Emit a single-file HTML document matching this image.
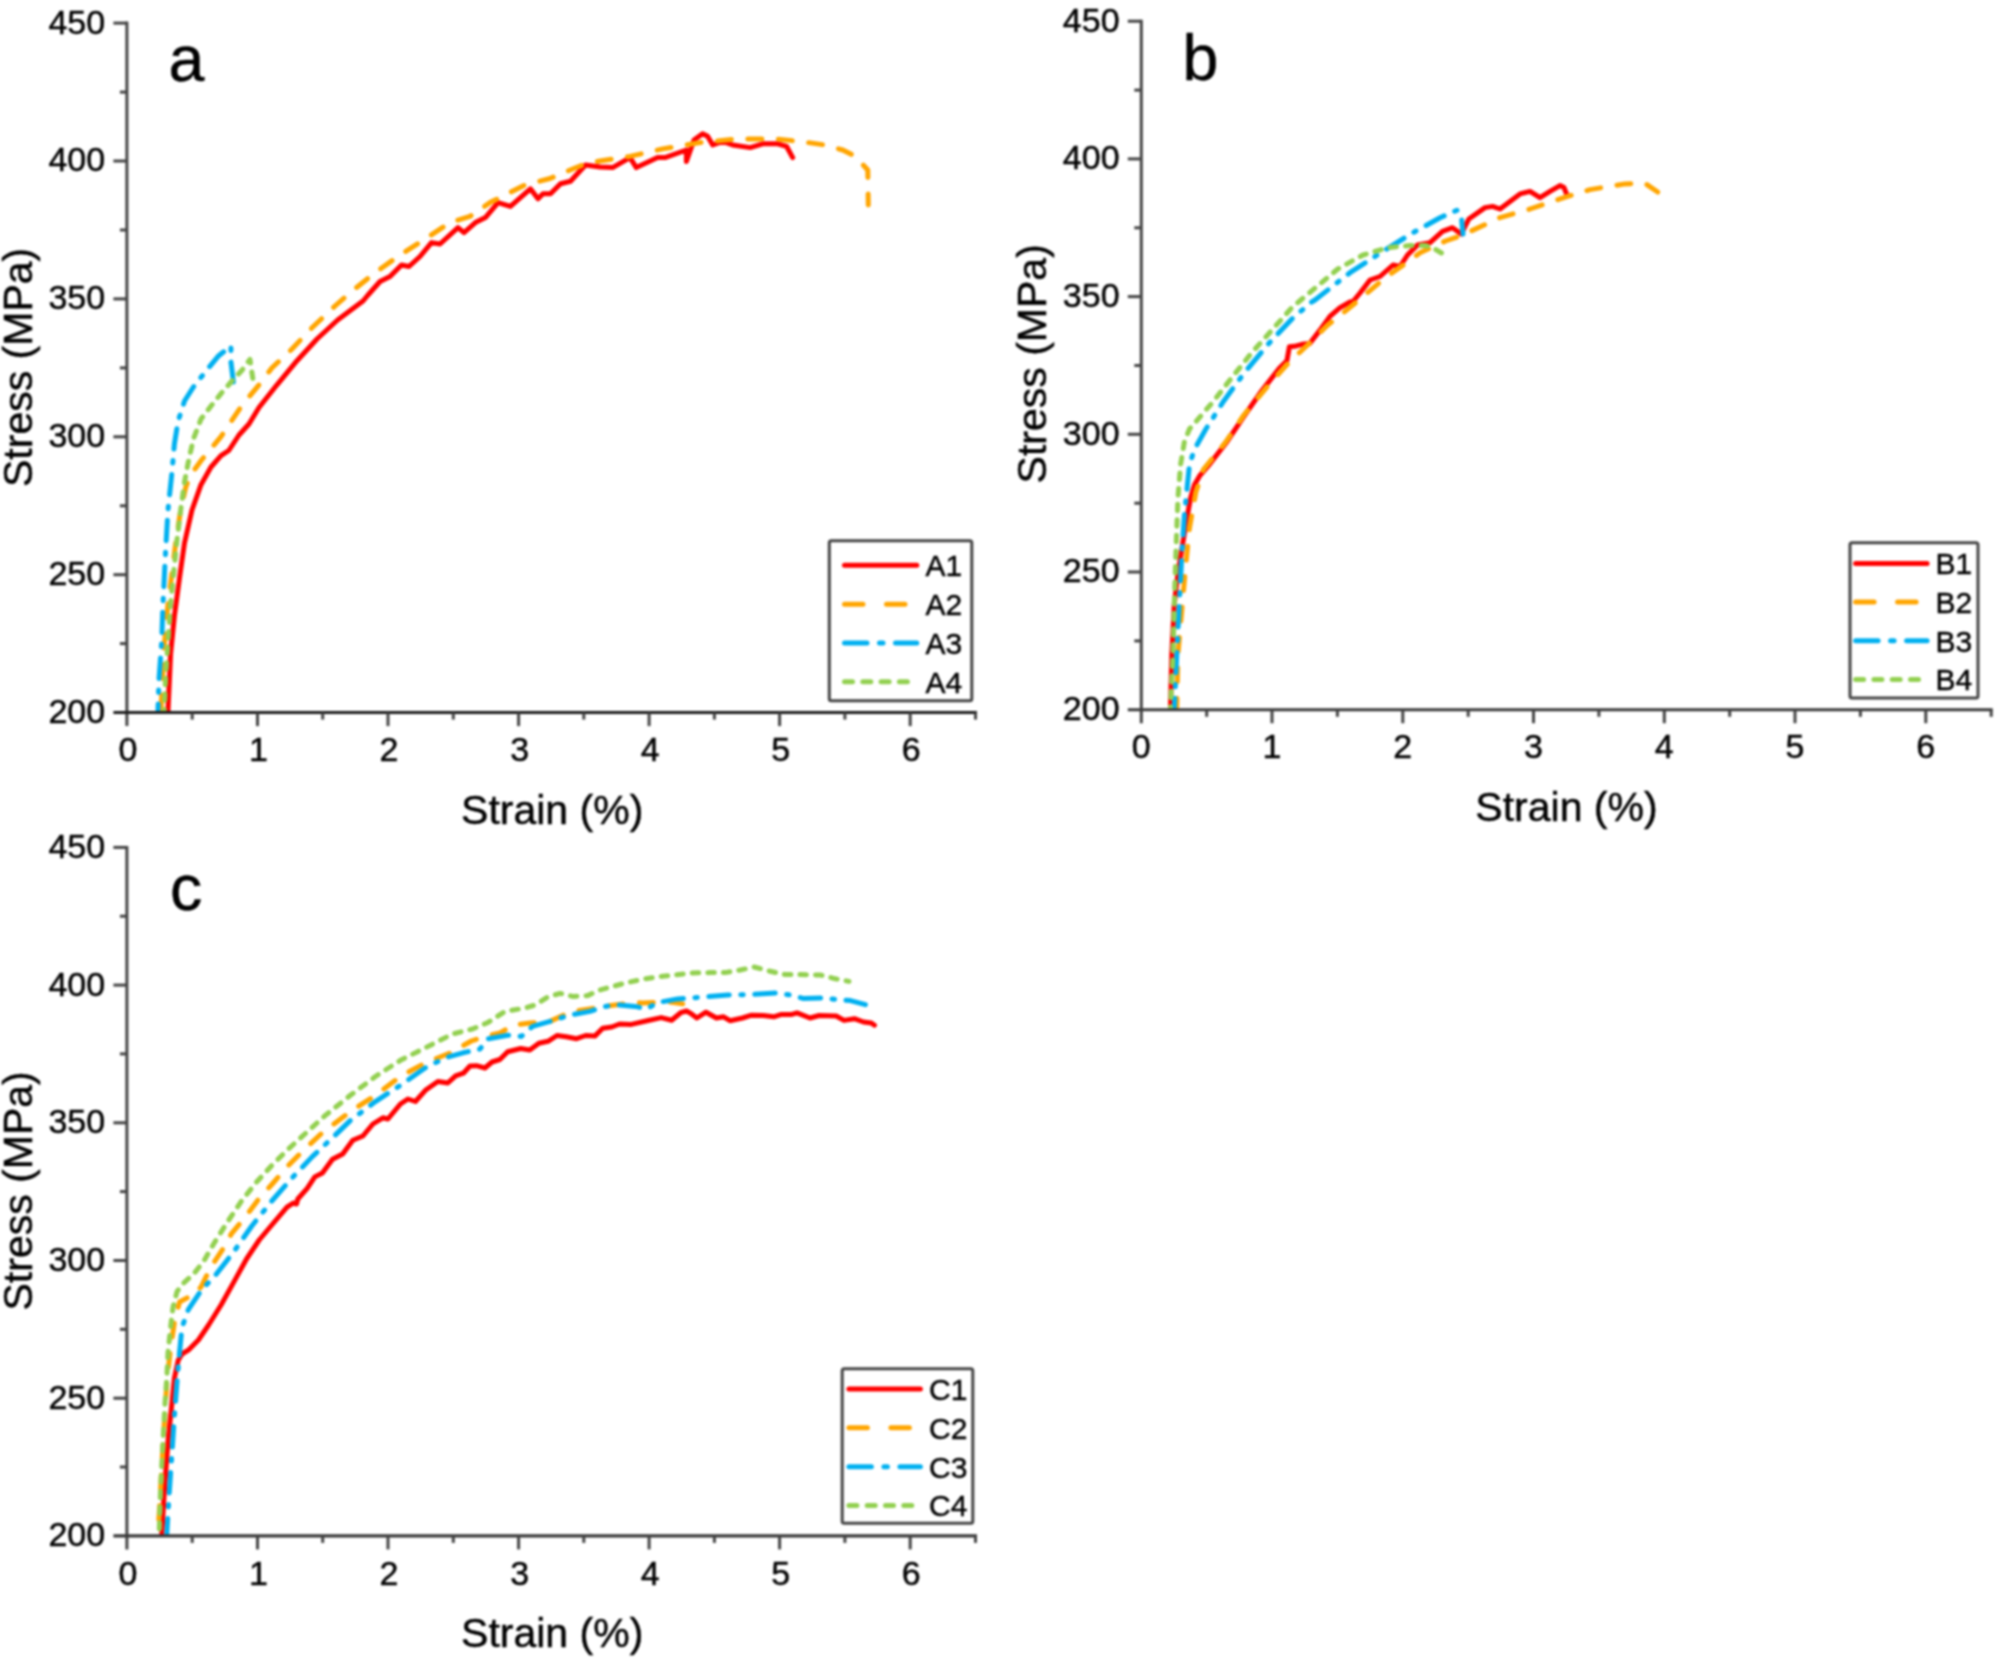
<!DOCTYPE html>
<html lang="en"><head><meta charset="utf-8"><title>Stress-strain curves</title>
<style>
html,body{margin:0;padding:0;background:#fff;}
body{width:1998px;height:1660px;overflow:hidden;}
text{stroke:#000;stroke-width:0.45px;}
svg{display:block;filter:blur(0.8px);font-family:"Liberation Sans",sans-serif;}
</style></head><body>
<svg width="1998" height="1660" viewBox="0 0 1998 1660">
<rect width="1998" height="1660" fill="#fff"/>
<g><polyline points="168.0,711.0 170.6,654.0 174.4,616.0 179.5,578.0 184.5,543.0 192.0,510.0 201.0,484.7 211.0,467.0 221.0,455.6 228.8,450.5 239.0,435.0 249.0,424.0 259.0,407.5 277.0,384.8 297.0,360.7 317.0,339.0 337.6,320.0 363.0,301.0 368.0,295.0 380.0,281.5 390.0,276.5 401.5,265.0 409.0,266.5 420.0,256.5 431.5,242.6 440.0,244.0 458.0,227.6 464.0,232.6 475.4,222.6 485.4,217.6 498.0,202.6 510.4,206.4 530.4,188.8 538.0,198.8 543.0,193.8 550.5,193.8 560.5,183.8 570.5,181.3 585.5,165.0 600.0,167.0 612.6,167.6 630.0,157.6 636.3,167.6 657.6,157.6 665.0,157.6 686.4,150.0 686.4,161.4 694.0,140.0 702.6,133.8 707.6,136.3 712.7,145.0 722.7,141.4 732.7,145.0 750.2,147.6 762.7,143.8 777.7,143.8 786.5,146.3 792.7,157.6" fill="none" stroke="#ff0000" stroke-width="5.0" stroke-linejoin="round" stroke-linecap="round"/>
<polyline points="161.0,711.0 164.0,649.0 168.0,603.6 172.0,573.0 175.7,543.0 180.7,510.0 185.8,487.0 190.8,474.6 201.0,460.7 221.0,436.6 241.5,406.0 259.0,384.8 271.8,368.0 292.0,349.0 312.0,327.8 335.0,306.0 350.0,292.7 375.0,272.7 400.0,255.0 425.0,239.0 450.0,222.6 470.0,216.4 490.0,202.6 525.0,185.0 550.0,178.5 575.0,168.0 585.0,164.0 600.0,161.0 630.0,156.4 662.6,148.9 700.0,142.6 737.7,138.9 775.0,138.9 800.0,141.4 825.0,145.0 842.8,150.0 855.3,156.4 867.8,170.0 868.3,205.0" fill="none" stroke="#ffa500" stroke-width="5.0" stroke-linejoin="round" stroke-linecap="round" stroke-dasharray="14 16.5" stroke-dashoffset="28.4"/>
<polyline points="158.0,710.0 159.0,679.5 161.7,641.6 163.0,603.6 165.5,553.0 168.0,510.0 172.0,472.0 174.4,444.0 178.0,421.5 184.5,401.0 193.4,387.0 206.0,371.0 218.7,355.7 231.0,346.0 230.8,360.7 233.4,382.0" fill="none" stroke="#00b0f0" stroke-width="5.0" stroke-linejoin="round" stroke-linecap="round" stroke-dasharray="20.5 11.5 2.5 11.5" stroke-dashoffset="14.5"/>
<polyline points="164.3,710.0 165.5,679.5 168.0,641.6 170.6,603.6 174.4,565.7 177.0,540.0 180.7,510.0 184.5,482.0 188.3,462.0 193.4,439.0 201.0,419.0 211.0,406.0 221.0,393.6 231.0,382.0 241.5,370.8 250.0,359.5 252.8,378.4" fill="none" stroke="#92d050" stroke-width="5.0" stroke-linejoin="round" stroke-linecap="round" stroke-dasharray="6.5 9.1" stroke-dashoffset="5.9"/>
<g stroke="#444444" stroke-width="3" fill="none">
<path d="M126.9 21.6V726.1"/>
<path d="M113.4 712.6H977.0" stroke="#1c1c1c" stroke-width="3"/>
<path d="M119.9 643.6H126.9"/>
<path d="M113.4 574.7H126.9"/>
<path d="M119.9 505.8H126.9"/>
<path d="M113.4 436.8H126.9"/>
<path d="M119.9 367.9H126.9"/>
<path d="M113.4 298.9H126.9"/>
<path d="M119.9 230.0H126.9"/>
<path d="M113.4 161.0H126.9"/>
<path d="M119.9 92.1H126.9"/>
<path d="M113.4 23.1H126.9"/>
<path d="M192.2 712.6V719.6"/>
<path d="M257.5 712.6V726.1"/>
<path d="M322.7 712.6V719.6"/>
<path d="M388.0 712.6V726.1"/>
<path d="M453.3 712.6V719.6"/>
<path d="M518.6 712.6V726.1"/>
<path d="M583.8 712.6V719.6"/>
<path d="M649.1 712.6V726.1"/>
<path d="M714.4 712.6V719.6"/>
<path d="M779.6 712.6V726.1"/>
<path d="M844.9 712.6V719.6"/>
<path d="M910.2 712.6V726.1"/>
<path d="M975.5 712.6V719.6"/>
</g>
<g font-size="34" fill="#000">
<text x="105.2" y="723.0" text-anchor="end">200</text>
<text x="105.2" y="585.1" text-anchor="end">250</text>
<text x="105.2" y="447.2" text-anchor="end">300</text>
<text x="105.2" y="309.3" text-anchor="end">350</text>
<text x="105.2" y="171.4" text-anchor="end">400</text>
<text x="105.2" y="33.5" text-anchor="end">450</text>
<text x="127.9" y="761.2" text-anchor="middle">0</text>
<text x="258.5" y="761.2" text-anchor="middle">1</text>
<text x="389.0" y="761.2" text-anchor="middle">2</text>
<text x="519.6" y="761.2" text-anchor="middle">3</text>
<text x="650.1" y="761.2" text-anchor="middle">4</text>
<text x="780.6" y="761.2" text-anchor="middle">5</text>
<text x="911.2" y="761.2" text-anchor="middle">6</text>
</g>
<text x="552.2" y="823.6" font-size="41" text-anchor="middle">Strain (%)</text>
<text transform="translate(32.4 367.4) rotate(-90)" font-size="41" text-anchor="middle">Stress (MPa)</text>
<text x="168.6" y="81.2" font-size="64.5">a</text>
<rect x="829.3" y="540.7" width="142.5" height="160.0" rx="2" fill="#fff" stroke="#444444" stroke-width="3"/>
<path d="M844.5 565.2H916.8" stroke="#ff0000" stroke-width="5.0" stroke-linecap="round"/>
<text x="925.5" y="576.0" font-size="30">A1</text>
<path d="M844.5 604.3H916.8" stroke="#ffa500" stroke-width="5.0" stroke-linecap="round" stroke-dasharray="18.5 23.5"/>
<text x="925.5" y="615.1" font-size="30">A2</text>
<path d="M844.5 643H916.8" stroke="#00b0f0" stroke-width="5.0" stroke-linecap="round" stroke-dasharray="22.5 12.5 3.5 12.5"/>
<text x="925.5" y="653.8" font-size="30">A3</text>
<path d="M844.5 681.8H913.8" stroke="#92d050" stroke-width="5.0" stroke-linecap="round" stroke-dasharray="8 10.3"/>
<text x="925.5" y="692.6" font-size="30">A4</text></g>
<g><polyline points="1170.5,707.4 1171.8,654.0 1174.3,603.6 1178.0,573.0 1182.0,548.0 1187.0,517.6 1190.7,497.4 1194.5,484.7 1199.6,475.9 1208.4,465.7 1226.0,443.0 1243.9,416.4 1261.6,391.0 1279.3,368.3 1286.9,360.7 1289.4,346.8 1294.5,346.3 1302.0,344.3 1309.7,343.5 1319.8,330.4 1329.9,316.4 1340.0,307.6 1350.0,302.0 1353.0,301.5 1360.0,293.0 1370.0,280.0 1380.0,276.5 1393.0,265.0 1400.0,266.5 1407.5,255.0 1417.5,245.0 1430.0,242.7 1442.5,231.4 1452.5,227.7 1461.3,234.0 1468.8,219.0 1485.0,207.6 1492.6,206.4 1500.0,209.0 1510.0,201.4 1520.0,193.9 1530.0,191.4 1540.0,197.6 1550.0,191.4 1560.0,185.6 1564.0,187.6 1567.0,195.0" fill="none" stroke="#ff0000" stroke-width="5.0" stroke-linejoin="round" stroke-linecap="round"/>
<polyline points="1176.8,707.0 1178.0,654.0 1181.9,608.7 1185.7,565.7 1189.5,527.7 1195.8,492.3 1203.4,469.5 1226.0,441.7 1243.9,415.0 1266.6,387.3 1286.9,364.5 1307.0,345.5 1327.4,325.3 1345.0,311.4 1360.0,299.0 1385.0,277.8 1407.5,262.0 1420.0,252.8 1445.5,241.0 1462.5,235.0 1500.0,217.6 1530.0,209.0 1567.6,196.4 1590.0,189.6 1625.0,183.9 1645.0,183.4 1657.7,192.0" fill="none" stroke="#ffa500" stroke-width="5.0" stroke-linejoin="round" stroke-linecap="round" stroke-dasharray="14 16.5" stroke-dashoffset="5.3"/>
<polyline points="1174.3,707.4 1176.8,654.0 1179.3,603.6 1181.9,553.0 1184.4,515.0 1186.9,489.8 1189.5,464.5 1194.5,449.3 1205.9,429.0 1223.6,401.2 1243.9,373.4 1269.2,343.0 1291.9,319.0 1310.9,302.5 1315.0,300.0 1350.0,272.7 1385.0,250.0 1413.0,232.7 1440.0,217.7 1457.5,210.0 1461.7,220.0 1463.0,234.0" fill="none" stroke="#00b0f0" stroke-width="5.0" stroke-linejoin="round" stroke-linecap="round" stroke-dasharray="20.5 11.5 2.5 11.5" stroke-dashoffset="11.4"/>
<polyline points="1170.5,707.4 1173.0,654.0 1174.3,603.6 1175.5,565.7 1176.8,527.7 1178.0,497.4 1180.6,464.5 1184.4,441.7 1189.5,429.0 1198.3,418.9 1213.5,401.2 1231.2,378.4 1251.5,353.0 1271.7,330.4 1291.9,307.6 1302.0,299.0 1337.8,269.0 1363.0,255.0 1388.0,247.7 1410.0,245.5 1425.0,245.5 1432.5,247.7 1441.5,253.0" fill="none" stroke="#92d050" stroke-width="5.0" stroke-linejoin="round" stroke-linecap="round" stroke-dasharray="6.5 9.1" stroke-dashoffset="5.9"/>
<g stroke="#444444" stroke-width="3" fill="none">
<path d="M1141.3 19.7V723.2"/>
<path d="M1127.8 709.8H1992.7" stroke="#3a3a3a" stroke-width="3.1"/>
<path d="M1134.3 640.9H1141.3"/>
<path d="M1127.8 572.0H1141.3"/>
<path d="M1134.3 503.2H1141.3"/>
<path d="M1127.8 434.3H1141.3"/>
<path d="M1134.3 365.5H1141.3"/>
<path d="M1127.8 296.6H1141.3"/>
<path d="M1134.3 227.8H1141.3"/>
<path d="M1127.8 158.9H1141.3"/>
<path d="M1134.3 90.1H1141.3"/>
<path d="M1127.8 21.2H1141.3"/>
<path d="M1206.7 709.8V716.8"/>
<path d="M1272.0 709.8V723.2"/>
<path d="M1337.4 709.8V716.8"/>
<path d="M1402.8 709.8V723.2"/>
<path d="M1468.2 709.8V716.8"/>
<path d="M1533.5 709.8V723.2"/>
<path d="M1598.9 709.8V716.8"/>
<path d="M1664.3 709.8V723.2"/>
<path d="M1729.7 709.8V716.8"/>
<path d="M1795.0 709.8V723.2"/>
<path d="M1860.4 709.8V716.8"/>
<path d="M1925.8 709.8V723.2"/>
<path d="M1991.2 709.8V716.8"/>
</g>
<g font-size="34" fill="#000">
<text x="1119.6" y="720.1" text-anchor="end">200</text>
<text x="1119.6" y="582.4" text-anchor="end">250</text>
<text x="1119.6" y="444.7" text-anchor="end">300</text>
<text x="1119.6" y="307.0" text-anchor="end">350</text>
<text x="1119.6" y="169.3" text-anchor="end">400</text>
<text x="1119.6" y="31.6" text-anchor="end">450</text>
<text x="1141.3" y="758.4" text-anchor="middle">0</text>
<text x="1272.0" y="758.4" text-anchor="middle">1</text>
<text x="1402.8" y="758.4" text-anchor="middle">2</text>
<text x="1533.5" y="758.4" text-anchor="middle">3</text>
<text x="1664.3" y="758.4" text-anchor="middle">4</text>
<text x="1795.0" y="758.4" text-anchor="middle">5</text>
<text x="1925.8" y="758.4" text-anchor="middle">6</text>
</g>
<text x="1566.5" y="821.4" font-size="41" text-anchor="middle">Strain (%)</text>
<text transform="translate(1045.8 363.8) rotate(-90)" font-size="41" text-anchor="middle">Stress (MPa)</text>
<text x="1182.5" y="80.2" font-size="64.5">b</text>
<rect x="1850" y="542.7" width="128.0" height="155.3" rx="2" fill="#fff" stroke="#444444" stroke-width="3"/>
<path d="M1855.6 563.6H1927.1" stroke="#ff0000" stroke-width="5.0" stroke-linecap="round"/>
<text x="1935.5" y="574.4" font-size="30">B1</text>
<path d="M1855.6 602H1927.1" stroke="#ffa500" stroke-width="5.0" stroke-linecap="round" stroke-dasharray="18.5 23.5"/>
<text x="1935.5" y="612.8" font-size="30">B2</text>
<path d="M1855.6 640.7H1927.1" stroke="#00b0f0" stroke-width="5.0" stroke-linecap="round" stroke-dasharray="22.5 12.5 3.5 12.5"/>
<text x="1935.5" y="651.5" font-size="30">B3</text>
<path d="M1855.6 679.5H1924.1" stroke="#92d050" stroke-width="5.0" stroke-linecap="round" stroke-dasharray="8 10.3"/>
<text x="1935.5" y="690.3" font-size="30">B4</text></g>
<g><polyline points="161.8,1533.7 164.3,1492.0 168.0,1441.3 171.9,1403.3 174.4,1378.0 178.2,1360.3 182.0,1354.0 188.3,1350.2 198.4,1340.0 208.6,1325.0 221.2,1304.7 233.9,1281.9 246.5,1259.0 259.2,1240.0 271.8,1225.0 287.0,1207.2 293.3,1203.0 296.5,1204.0 297.8,1199.0 307.2,1188.3 314.8,1176.9 322.4,1173.0 332.5,1159.2 342.7,1154.0 352.8,1140.2 362.9,1136.0 372.9,1124.0 382.9,1117.8 387.9,1119.0 400.4,1104.0 407.9,1099.0 415.4,1101.5 425.4,1090.3 437.9,1081.5 447.8,1083.0 455.6,1075.8 463.4,1073.2 470.0,1066.0 476.4,1065.7 484.9,1068.0 492.0,1062.0 499.9,1059.5 507.7,1051.7 520.7,1048.5 529.8,1050.0 538.9,1043.3 548.0,1041.3 557.0,1035.5 566.2,1036.8 576.6,1038.7 585.7,1035.5 594.8,1036.1 602.7,1028.3 611.8,1027.0 619.6,1024.0 631.3,1024.4 648.2,1020.5 661.2,1017.6 671.6,1020.2 680.7,1012.7 686.5,1011.0 691.5,1013.9 696.9,1018.0 706.0,1012.2 716.4,1018.0 723.6,1016.8 730.0,1020.7 742.5,1018.0 751.6,1015.2 763.3,1015.5 773.7,1016.8 781.5,1014.4 791.9,1014.4 797.0,1012.9 810.0,1018.0 819.2,1015.5 836.2,1016.0 844.0,1020.4 854.4,1018.7 863.5,1022.0 871.3,1023.0 874.5,1025.2" fill="none" stroke="#ff0000" stroke-width="5.0" stroke-linejoin="round" stroke-linecap="round"/>
<polyline points="158.0,1533.7 159.2,1514.7 161.8,1466.6 164.3,1423.6 166.8,1383.0 170.6,1347.7 174.4,1322.4 179.5,1302.0 193.4,1294.5 201.0,1287.0 211.0,1266.7 226.3,1244.0 231.3,1233.8 244.0,1218.6 259.2,1198.4 271.8,1184.5 287.0,1166.8 302.2,1151.6 322.4,1132.6 350.4,1111.6 375.4,1095.3 400.4,1076.5 425.4,1062.8 450.5,1052.8 471.3,1041.0 485.0,1036.4 500.0,1033.0 513.8,1025.0 530.0,1023.0 550.0,1021.4 570.0,1012.0 605.0,1006.4 632.7,1002.6 642.7,1003.0 670.0,1002.0 682.7,1003.9" fill="none" stroke="#ffa500" stroke-width="5.0" stroke-linejoin="round" stroke-linecap="round" stroke-dasharray="14 16.5" stroke-dashoffset="16.3"/>
<polyline points="166.8,1533.7 169.3,1492.0 171.9,1454.0 174.4,1416.0 176.9,1383.0 179.5,1352.7 182.0,1327.4 188.3,1309.7 201.0,1290.7 216.2,1274.3 233.9,1251.5 251.6,1226.2 271.8,1201.0 292.0,1178.0 312.3,1156.6 332.5,1137.7 350.4,1120.4 375.4,1101.6 400.4,1085.3 425.4,1067.8 445.4,1057.8 463.0,1052.8 480.0,1049.0 487.5,1039.0 507.6,1035.2 521.3,1036.4 532.6,1026.4 550.0,1021.4 570.0,1015.0 590.0,1011.4 602.7,1007.0 615.2,1004.6 635.2,1006.4 646.4,1009.0 657.7,1002.6 677.7,998.9 705.3,996.9 727.8,995.0 750.3,994.6 775.3,993.0 790.3,995.0 802.9,998.4 825.4,998.0 836.6,999.6 850.4,1000.6 865.4,1004.6" fill="none" stroke="#00b0f0" stroke-width="5.0" stroke-linejoin="round" stroke-linecap="round" stroke-dasharray="20.5 11.5 2.5 11.5" stroke-dashoffset="5.2"/>
<polyline points="159.2,1533.7 160.5,1492.0 163.0,1441.3 165.0,1403.3 166.8,1378.0 168.0,1352.7 170.6,1327.4 173.0,1307.2 176.9,1292.0 182.0,1284.4 193.4,1274.3 203.5,1261.6 213.6,1244.0 226.3,1223.7 241.5,1201.0 256.6,1182.0 271.8,1165.5 287.0,1150.3 302.2,1136.4 325.3,1115.4 350.4,1095.3 375.4,1076.5 400.4,1060.3 425.4,1047.8 452.5,1034.0 472.5,1029.0 487.5,1022.7 505.0,1011.4 525.0,1008.0 535.0,1005.0 547.6,997.0 560.0,993.4 572.6,996.4 587.6,995.6 600.0,990.0 625.2,983.0 645.2,978.8 662.7,976.3 692.7,973.0 710.3,972.6 725.3,972.6 740.3,970.0 754.0,967.0 770.3,971.3 785.3,974.6 800.4,974.6 820.4,975.0 835.4,978.8 849.0,981.4" fill="none" stroke="#92d050" stroke-width="5.0" stroke-linejoin="round" stroke-linecap="round" stroke-dasharray="6.5 9.1" stroke-dashoffset="10.9"/>
<g stroke="#444444" stroke-width="3" fill="none">
<path d="M126.9 845.9V1549.4"/>
<path d="M113.4 1535.9H977.0" stroke="#383838" stroke-width="3.2"/>
<path d="M119.9 1467.0H126.9"/>
<path d="M113.4 1398.2H126.9"/>
<path d="M119.9 1329.3H126.9"/>
<path d="M113.4 1260.5H126.9"/>
<path d="M119.9 1191.6H126.9"/>
<path d="M113.4 1122.8H126.9"/>
<path d="M119.9 1053.9H126.9"/>
<path d="M113.4 985.1H126.9"/>
<path d="M119.9 916.2H126.9"/>
<path d="M113.4 847.4H126.9"/>
<path d="M192.2 1535.9V1542.9"/>
<path d="M257.5 1535.9V1549.4"/>
<path d="M322.7 1535.9V1542.9"/>
<path d="M388.0 1535.9V1549.4"/>
<path d="M453.3 1535.9V1542.9"/>
<path d="M518.6 1535.9V1549.4"/>
<path d="M583.8 1535.9V1542.9"/>
<path d="M649.1 1535.9V1549.4"/>
<path d="M714.4 1535.9V1542.9"/>
<path d="M779.6 1535.9V1549.4"/>
<path d="M844.9 1535.9V1542.9"/>
<path d="M910.2 1535.9V1549.4"/>
<path d="M975.5 1535.9V1542.9"/>
</g>
<g font-size="34" fill="#000">
<text x="105.2" y="1546.3" text-anchor="end">200</text>
<text x="105.2" y="1408.6" text-anchor="end">250</text>
<text x="105.2" y="1270.9" text-anchor="end">300</text>
<text x="105.2" y="1133.2" text-anchor="end">350</text>
<text x="105.2" y="995.5" text-anchor="end">400</text>
<text x="105.2" y="857.8" text-anchor="end">450</text>
<text x="127.9" y="1584.5" text-anchor="middle">0</text>
<text x="258.5" y="1584.5" text-anchor="middle">1</text>
<text x="389.0" y="1584.5" text-anchor="middle">2</text>
<text x="519.6" y="1584.5" text-anchor="middle">3</text>
<text x="650.1" y="1584.5" text-anchor="middle">4</text>
<text x="780.6" y="1584.5" text-anchor="middle">5</text>
<text x="911.2" y="1584.5" text-anchor="middle">6</text>
</g>
<text x="552.2" y="1647.4" font-size="41" text-anchor="middle">Strain (%)</text>
<text transform="translate(32.4 1190.9) rotate(-90)" font-size="41" text-anchor="middle">Stress (MPa)</text>
<text x="169.9" y="910.2" font-size="64.5">c</text>
<rect x="842.2" y="1368.8" width="130.6" height="154.4" rx="2" fill="#fff" stroke="#444444" stroke-width="3"/>
<path d="M848.9 1389H920.4" stroke="#ff0000" stroke-width="5.0" stroke-linecap="round"/>
<text x="929" y="1399.8" font-size="30">C1</text>
<path d="M848.9 1427.8H920.4" stroke="#ffa500" stroke-width="5.0" stroke-linecap="round" stroke-dasharray="18.5 23.5"/>
<text x="929" y="1438.6" font-size="30">C2</text>
<path d="M848.9 1466.7H920.4" stroke="#00b0f0" stroke-width="5.0" stroke-linecap="round" stroke-dasharray="22.5 12.5 3.5 12.5"/>
<text x="929" y="1477.5" font-size="30">C3</text>
<path d="M848.9 1505.5H917.4" stroke="#92d050" stroke-width="5.0" stroke-linecap="round" stroke-dasharray="8 10.3"/>
<text x="929" y="1516.3" font-size="30">C4</text></g>
</svg>
</body></html>
